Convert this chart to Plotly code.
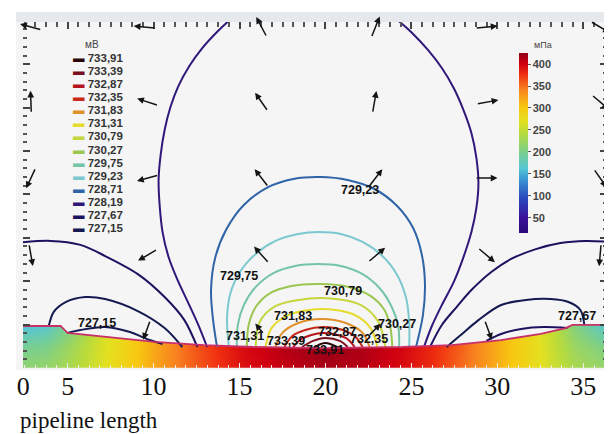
import math
import plotly.graph_objects as go

# ---------------- data ----------------
# contour levels (legend, mV) and their colours
levels = ["733,91", "733,39", "732,87", "732,35", "731,83", "731,31", "730,79",
          "730,27", "729,75", "729,23", "728,71", "728,19", "727,67", "727,15"]
level_colors = ["#2a0508", "#7a0f1f", "#b5141e", "#c8281a", "#e0902a", "#e6dc30", "#c4d63c",
                "#9cc650", "#74c4a8", "#7cc8d0", "#2f64a8", "#30187a", "#1c1260", "#141a50"]

# top of the pipe zone (pipeline length, depth)
pipe_x = [2.40, 4.59, 4.99, 7.18, 10.06, 12.94, 15.82, 19.85, 24.46, 27.34, 30.22, 32.53, 33.97, 34.37, 36.39]
pipe_y = [2.42, 2.42, 2.02, 1.79, 1.50, 1.32, 1.21, 1.15, 1.21, 1.32, 1.61, 1.96, 2.30, 2.48, 2.48]

# pressure field of the pipe zone, mPa
strip_x = [2.46, 3.72, 4.99, 6.61, 8.33, 10.06, 11.79, 13.52, 15.25, 17.55,
           19.85, 22.16, 24.46, 26.19, 27.92, 29.65, 31.38, 33.10, 34.54, 36.39]
strip_y = [0.0, 1.25, 2.5]
strip_bottom = [215, 218, 232, 258, 290, 322, 350, 372, 392, 405, 415, 410, 395, 378, 352, 324, 292, 258, 232, 218]
strip_mid = [195, 200, 222, 255, 288, 322, 350, 375, 395, 410, 422, 414, 398, 380, 355, 325, 292, 255, 222, 200]
strip_top = [158, 165, 200, 245, 285, 320, 350, 375, 395, 410, 420, 412, 398, 380, 355, 325, 290, 250, 205, 162]

# traced potential contours (pipeline length, depth)
c73391_x = [19.28, 19.97, 20.83]
c73391_y = [1.15, 1.44, 1.15]
c73339_x = [18.64, 19.28, 19.97, 20.83, 21.29]
c73339_y = [1.21, 1.56, 1.73, 1.56, 1.21]
c73287_x = [18.13, 18.59, 19.85, 21.18, 21.70]
c73287_y = [1.21, 1.67, 2.02, 1.73, 1.21]
c73235_x = [17.61, 18.07, 18.82, 19.85, 21.01, 21.75, 22.16]
c73235_y = [1.21, 1.84, 2.19, 2.36, 2.19, 1.79, 1.21]
c73183_x = [17.09, 17.49, 18.42, 19.74, 21.18, 22.16, 22.56]
c73183_y = [1.21, 2.02, 2.59, 2.82, 2.59, 2.02, 1.21]
c73131_x = [16.51, 16.86, 17.84, 19.74, 21.58, 22.62, 23.02]
c73131_y = [1.21, 2.30, 3.05, 3.40, 3.11, 2.30, 1.21]
c73079_x = [15.94, 16.17, 17.09, 19.74, 22.04, 23.08, 23.48]
c73079_y = [1.21, 2.65, 3.57, 4.03, 3.63, 2.65, 1.21]
c73027_x = [15.42, 15.53, 15.94, 16.69, 18.01, 19.68, 21.35, 22.62, 23.43, 23.77, 23.89]
c73027_y = [1.21, 2.48, 3.51, 4.26, 4.72, 4.84, 4.67, 4.15, 3.34, 2.36, 1.21]
c72975_x = [14.84, 14.90, 15.25, 15.94, 16.97, 18.24, 19.57, 20.89, 22.16, 23.14, 23.83, 24.23, 24.29]
c72975_y = [1.21, 2.48, 3.63, 4.67, 5.47, 5.88, 5.99, 5.88, 5.41, 4.61, 3.57, 2.42, 1.21]
c72923_x = [14.38, 14.27, 14.44, 15.02, 15.94, 17.09, 18.41, 19.62, 20.89, 22.16, 23.31, 24.17, 24.69, 24.87, 24.87]
c72923_y = [1.21, 2.76, 4.21, 5.53, 6.57, 7.32, 7.72, 7.83, 7.72, 7.26, 6.45, 5.36, 4.03, 2.65, 1.21]
c72871_x = [13.69, 13.46, 13.34, 13.58, 14.21, 15.25, 16.69, 18.13, 19.68, 21.29, 22.85, 24.17,
            25.10, 25.61, 25.79, 25.67, 25.27]
c72871_y = [1.21, 2.76, 4.49, 6.34, 7.95, 9.39, 10.43, 10.89, 11.00, 10.83, 10.31, 9.33,
            8.06, 6.51, 4.78, 3.05, 1.21]
c72819_left_x = [14.55, 13.63, 12.83, 12.08, 11.44, 10.98, 10.64, 10.41, 10.29, 10.35, 10.52,
                 10.87, 11.39, 12.02, 12.60, 13.11]
c72819_left_y = [20.16, 19.30, 18.43, 17.40, 16.24, 15.03, 13.71, 12.27, 10.83, 9.39, 7.83,
                 6.39, 5.07, 3.74, 2.48, 1.21]
c72819_right_x = [24.06, 25.04, 25.96, 26.77, 27.46, 28.03, 28.49, 28.78, 28.90, 28.78, 28.49,
                  28.03, 27.46, 26.77, 26.19, 25.73]
c72819_right_y = [20.16, 19.30, 18.32, 17.28, 16.13, 14.86, 13.54, 12.10, 10.66, 9.22, 7.83,
                  6.39, 4.95, 3.63, 2.42, 1.21]
c72767_left_x = [2.00, 4.01, 5.74, 7.18, 9.08, 10.64, 11.79, 12.54]
c72767_left_y = [7.20, 7.32, 7.09, 6.45, 5.41, 4.09, 2.76, 1.21]
c72767_right_x = [36.79, 35.12, 33.68, 32.24, 30.80, 29.65, 28.49, 27.63, 26.77, 26.08]
c72767_right_y = [7.26, 7.32, 7.20, 6.85, 6.28, 5.53, 4.49, 3.51, 2.48, 1.21]
c72715_left_x = [3.90, 4.19, 4.88, 6.03, 7.18, 9.08, 10.64, 11.67]
c72715_left_y = [2.42, 3.23, 3.80, 4.09, 3.97, 3.28, 2.30, 1.21]
c72715_right_x = [35.06, 34.83, 34.14, 33.10, 31.66, 30.22, 28.90, 27.80, 27.05]
c72715_right_y = [2.48, 3.34, 3.80, 3.97, 3.92, 3.63, 2.76, 1.84, 1.21]
lobe_left_x = [4.99, 5.74, 7.18, 8.62, 9.77, 10.52]
lobe_left_y = [2.02, 2.19, 2.36, 2.07, 1.61, 1.38]
lobe_right_x = [34.08, 32.70, 31.38, 30.22, 29.36]
lobe_right_y = [2.30, 2.36, 2.25, 1.96, 1.56]

# contour labels placed on the plot
label_text = ["729,23", "729,75", "730,79", "731,83", "731,31", "733,39",
              "732,87", "732,35", "730,27", "733,91", "727,15", "727,67"]
label_x = [21.99, 14.96, 21.01, 18.13, 15.30, 17.72, 20.66, 22.56, 24.18, 19.97, 6.72, 34.66]
label_y = [10.25, 5.30, 4.44, 3.00, 1.84, 1.56, 2.07, 1.67, 2.53, 1.04, 2.59, 3.00]

# current-density arrows: centre, direction (deg), length
arrow_x = [2.86, 9.49, 16.28, 22.91, 29.36, 35.98,
           2.86, 9.66, 16.28, 22.85, 29.42, 35.98,
           2.86, 9.66, 16.28, 22.91, 29.36, 35.98,
           2.86, 9.66, 16.28, 22.97, 29.36, 35.98,
           9.60, 16.17, 22.85, 29.47]
arrow_y = [19.64, 19.64, 19.64, 19.64, 19.64, 19.64,
           15.32, 15.32, 15.32, 15.32, 15.32, 15.32,
           10.94, 10.94, 10.94, 10.94, 10.94, 10.94,
           6.51, 6.51, 6.51, 6.51, 6.51, 6.51,
           2.19, 2.25, 2.19, 2.19]
arrow_angle = [165, 175, 118, 68, 5, -30,
               92, 162, 125, 80, 10, -40,
               -115, -165, 128, 52, 0, -55,
               -80, -150, 132, 40, -40, -95,
               -110, 130, 45, -70]
arrow_len = [1.3] * 24 + [1.2, 0.8, 1.0, 1.2]

# axis tick labels
tick_vals = [2.42, 5, 10, 15, 20, 25, 30, 35]
tick_text = ["0", "5", "10", "15", "20", "25", "30", "35"]
cbar_vals = [50, 100, 150, 200, 250, 300, 350, 400]

# ---------------- figure ----------------
X_RANGE = [2.40, 36.38]
Y_RANGE = [0, 19.93]
BODY = "#f5f5f5"
LABEL_FONT = "Liberation Sans, Arial, sans-serif"
SERIF = "Liberation Serif, Times New Roman, serif"

rainbow = [[0.0, "#2a0a78"], [0.08, "#3a0f98"], [0.2, "#2a4cc0"], [0.3, "#3a98d4"],
           [0.36, "#56c6d4"], [0.45, "#7ccf8c"], [0.55, "#b4da40"], [0.62, "#e4e020"],
           [0.70, "#f8c810"], [0.80, "#f88020"], [0.88, "#f03010"], [0.94, "#d00010"],
           [1.0, "#900018"]]

fig = go.Figure()

fig.add_trace(go.Heatmap(
    x=strip_x, y=strip_y, z=[strip_bottom, strip_mid, strip_top],
    colorscale=rainbow, zmin=15, zmax=425, zsmooth="best", hoverinfo="skip",
    colorbar=dict(x=0.849, xanchor="left", xpad=0, ypad=0, y=0.650, yanchor="middle",
                  len=0.52, lenmode="fraction", thickness=9, outlinewidth=0,
                  tickvals=cbar_vals, ticks="outside", ticklen=3, tickcolor="#555",
                  tickfont=dict(family=LABEL_FONT, size=11, color="#444", weight="bold"))))

# mask above the pipe zone
mask_x = pipe_x + [X_RANGE[1] + 0.5, X_RANGE[1] + 0.5, X_RANGE[0] - 0.5, X_RANGE[0] - 0.5]
mask_y = pipe_y + [pipe_y[-1], 3.6, 3.6, pipe_y[0]]
fig.add_trace(go.Scatter(x=mask_x, y=mask_y, fill="toself", fillcolor=BODY,
                         line=dict(width=0), mode="lines", hoverinfo="skip", showlegend=False))

curves = [
    (c73391_x, c73391_y, 0), (c73339_x, c73339_y, 1), (c73287_x, c73287_y, 2),
    (c73235_x, c73235_y, 3), (c73183_x, c73183_y, 4), (c73131_x, c73131_y, 5),
    (c73079_x, c73079_y, 6), (c73027_x, c73027_y, 7), (c72975_x, c72975_y, 8),
    (c72923_x, c72923_y, 9), (c72871_x, c72871_y, 10),
    (c72819_left_x, c72819_left_y, 11), (c72819_right_x, c72819_right_y, 11),
    (c72767_left_x, c72767_left_y, 12), (c72767_right_x, c72767_right_y, 12),
    (c72715_left_x, c72715_left_y, 13), (c72715_right_x, c72715_right_y, 13),
    (lobe_left_x, lobe_left_y, 13), (lobe_right_x, lobe_right_y, 12),
]
for cx, cy, li in curves:
    fig.add_trace(go.Scatter(x=cx, y=cy, mode="lines", name=levels[li],
                             line=dict(color=level_colors[li], width=2, shape="spline", smoothing=0.9),
                             hoverinfo="skip", showlegend=False))

# pipe-zone boundary line
fig.add_trace(go.Scatter(x=pipe_x, y=pipe_y, mode="lines",
                         line=dict(color="#c8306a", width=1.8), hoverinfo="skip", showlegend=False))

# invisible trace for the top axis
fig.add_trace(go.Scatter(x=[X_RANGE[0]], y=[Y_RANGE[0]], xaxis="x2", mode="markers",
                         marker=dict(opacity=0), hoverinfo="skip", showlegend=False))

annotations = []
for t, x, y in zip(label_text, label_x, label_y):
    annotations.append(dict(x=x, y=y, xref="x", yref="y", text=t, showarrow=False,
                            font=dict(family=LABEL_FONT, size=12.5, color="#111", weight="bold")))

for x0, y0, ang, ln in zip(arrow_x, arrow_y, arrow_angle, arrow_len):
    dx = ln * math.cos(math.radians(ang)) / 2
    dy = ln * math.sin(math.radians(ang)) / 2
    annotations.append(dict(x=x0 + dx, y=y0 + dy, ax=x0 - dx, ay=y0 - dy,
                            xref="x", yref="y", axref="x", ayref="y", text="",
                            showarrow=True, arrowhead=2, arrowsize=0.9, arrowwidth=1.5,
                            arrowcolor="#151515", standoff=0, startstandoff=0))

# legend (mV)
annotations.append(dict(x=0.102, y=0.936, xref="paper", yref="paper", xanchor="left",
                        yanchor="middle", text="мВ", showarrow=False,
                        font=dict(family=LABEL_FONT, size=10, color="#444")))
for i, (lv, col) in enumerate(zip(levels, level_colors)):
    ypx = 58 + 13.08 * i
    annotations.append(dict(x=0.083, y=(368 - ypx) / 346, xref="paper", yref="paper",
                            xanchor="left", yanchor="middle", showarrow=False,
                            text=f'<span style="color:{col}">▬</span> {lv}',
                            font=dict(family=LABEL_FONT, size=11.5, color="#333", weight="bold")))

# colour bar unit
annotations.append(dict(x=0.89, y=0.934, xref="paper", yref="paper", xanchor="center",
                        yanchor="middle", text="мПа", showarrow=False,
                        font=dict(family=LABEL_FONT, size=9, color="#444")))

annotations.append(dict(x=-0.0085, y=-0.153, xref="paper", yref="paper", xanchor="left",
                        yanchor="middle", text="pipeline length", showarrow=False,
                        font=dict(family=SERIF, size=23, color="#111")))

shapes = [
    dict(type="rect", xref="paper", yref="paper", x0=-0.012, x1=1.0085, y0=-0.006, y1=1.029,
         fillcolor="#e6e9ec", line=dict(width=0), layer="below"),
    dict(type="rect", xref="paper", yref="paper", x0=-0.012, x1=1.0085, y0=-0.006, y1=1.0,
         fillcolor=BODY, line=dict(width=0), layer="below"),
]

fig.update_layout(
    width=612, height=434,
    margin=dict(l=9, r=13, t=14, b=74),
    paper_bgcolor="white", plot_bgcolor=BODY,
    showlegend=False,
    xaxis=dict(range=X_RANGE, showgrid=False, zeroline=False, showline=False,
               tickmode="array", tickvals=tick_vals, ticktext=tick_text,
               ticks="inside", ticklen=5, tickcolor="#eeeeee", tickwidth=1,
               minor=dict(tick0=0, dtick=0.625, ticks="inside", ticklen=3, tickcolor="#eeeeee"),
               tickfont=dict(family=SERIF, size=26, color="#111")),
    xaxis2=dict(range=X_RANGE, overlaying="x", side="top", showgrid=False, zeroline=False,
                showticklabels=False, tick0=0, dtick=5, ticks="inside", ticklen=7, tickwidth=1.5,
                tickcolor="#444", minor=dict(dtick=0.625, ticks="inside", ticklen=5,
                                             tickwidth=1.5, tickcolor="#555")),
    yaxis=dict(range=Y_RANGE, showgrid=False, zeroline=False, showline=False,
               showticklabels=False, tick0=0, dtick=2.5, ticks="inside", ticklen=7, tickwidth=1.5,
               tickcolor="#444", mirror="ticks",
               minor=dict(dtick=0.5, ticks="inside", ticklen=4, tickwidth=1.5, tickcolor="#555")),
    annotations=annotations,
    shapes=shapes,
)

fig.write_html("out.html")
